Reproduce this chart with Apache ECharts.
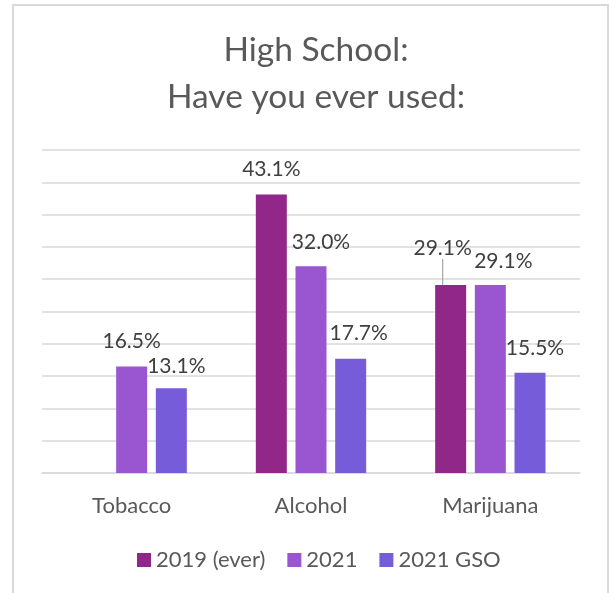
<!DOCTYPE html>
<html>
<head>
<meta charset="utf-8">
<script src="https://cdn.jsdelivr.net/npm/echarts@6/dist/echarts.min.js"></script>
<style>
  html, body { margin: 0; padding: 0; background: #ffffff; }
  #chart { position: absolute; left: 0; top: 0; width: 609px; height: 593px; }
  #frame { position: absolute; left: 12px; top: 4px; width: 593px; height: 620px;
           border: 2px solid #d9d9d9; border-bottom: none; pointer-events: none; }
</style>
</head>
<body>
<div id="chart"></div>
<div id="frame"></div>
<script>
// Substances surveyed
const categories = ['Tobacco', 'Alcohol', 'Marijuana'];

// Percent of high school students who have ever used each substance
const seriesNames = ['2019 (ever)', '2021', '2021 GSO'];
const values2019 = [null, 43.1, 29.1];
const values2021 = [16.5, 32.0, 29.1];
const values2021Gso = [13.1, 17.7, 15.5];

// Value axis range (gridlines every 5 points, no tick labels shown)
const axisMin = 0;
const axisMax = 50;
const axisStep = 5;

// Hand-placed nudges for the value labels, [dx, dy] per series / category
const labelNudges = [
  [[0, 0], [0, -1], [-8, -12]],
  [[0, -1], [10, 0], [13, 1]],
  [[5, 2], [8, -1], [5, 0]]
];

const colors = ['#912789', '#9a55d1', '#765cd8'];
const FONT = 'Lato, "Open Sans", sans-serif';

function pct(v) { return v.toFixed(1) + '%'; }

function makeSeries(idx, values) {
  return {
    name: seriesNames[idx],
    type: 'bar',
    barWidth: 31,
    barGap: '28%',
    itemStyle: { color: colors[idx] },
    label: {
      show: true,
      position: 'top',
      distance: 14,
      fontFamily: FONT,
      fontSize: 21,
      lineHeight: 21,
      color: '#404040',
      formatter: p => pct(p.value)
    },
    labelLayout: p => {
      const n = labelNudges[p.seriesIndex][p.dataIndex];
      return { dx: n[0], dy: n[1] };
    },
    data: values.map((v, i) => {
      // the 2019 marijuana label sits off its bar, joined by a leader line
      if (idx === 0 && i === 2) {
        return { value: v, labelLine: { show: true, lineStyle: { color: '#a6a6a6', width: 1.2 } } };
      }
      return v;
    })
  };
}

const chart = echarts.init(document.getElementById('chart'), null, { renderer: 'canvas' });
chart.setOption({
  animation: false,
  backgroundColor: '#ffffff',
  title: {
    text: 'High School:\nHave you ever used:',
    left: 311,
    textAlign: 'center',
    top: 22,
    textStyle: {
      fontFamily: FONT,
      fontSize: 33.5,
      fontWeight: 'normal',
      lineHeight: 47,
      color: '#595959'
    }
  },
  legend: {
    bottom: 17,
    left: 132,
    itemWidth: 14,
    itemHeight: 14,
    itemGap: 22,
    icon: 'rect',
    textStyle: { fontFamily: FONT, fontSize: 22, color: '#595959' },
    data: seriesNames
  },
  grid: { left: 42, right: 29, top: 150, bottom: 120, containLabel: false },
  xAxis: {
    type: 'category',
    data: categories,
    axisLine: { lineStyle: { color: '#d9d9d9', width: 1.5 } },
    axisTick: { show: false },
    axisLabel: { fontFamily: FONT, fontSize: 22, color: '#595959', margin: 22 }
  },
  yAxis: {
    type: 'value',
    min: axisMin,
    max: axisMax,
    interval: axisStep,
    axisLabel: { show: false },
    axisLine: { show: false },
    axisTick: { show: false },
    splitLine: { lineStyle: { color: '#d9d9d9', width: 1.5 } }
  },
  series: [
    makeSeries(0, values2019),
    makeSeries(1, values2021),
    makeSeries(2, values2021Gso)
  ]
});
</script>
</body>
</html>
